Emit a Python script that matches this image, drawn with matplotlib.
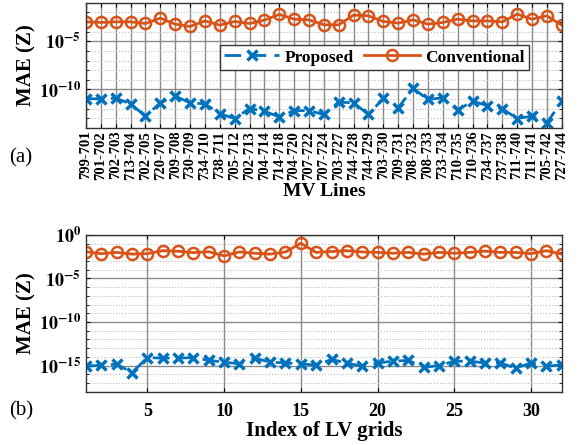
import numpy as np
import matplotlib
matplotlib.use('Agg')
import matplotlib.pyplot as plt
from matplotlib.ticker import NullFormatter

plt.rcParams['font.family'] = 'Liberation Serif'
plt.rcParams['font.weight'] = 'bold'
plt.rcParams['mathtext.fontset'] = 'stix'

# datos (exponentes log10)
mv_lines = ['799-701', '701-702', '702-703', '713-704', '702-705', '720-707', '709-708',
            '730-709', '734-710', '738-711', '705-712', '702-713', '704-714', '714-718',
            '704-720', '707-722', '707-724', '703-727', '744-728', '744-729', '703-730',
            '709-731', '708-732', '708-733', '733-734', '710-735', '710-736', '734-737',
            '737-738', '711-740', '711-741', '705-742', '727-744']
mv_proposed_exp = [-10.97, -10.97, -10.9, -11.5, -12.78, -11.39, -10.69, -11.39, -11.5, -12.5,
                   -13.02, -11.98, -12.26, -12.85, -12.2, -12.2, -12.6, -11.32, -11.39, -12.6,
                   -10.93, -11.9, -9.9, -11.04, -10.87, -12.15, -11.22, -11.67, -12.0, -13.02,
                   -12.78, -13.47, -11.25]
mv_conventional_exp = [-2.99, -3.05, -2.99, -2.99, -3.16, -2.6, -3.23, -3.47, -2.89, -3.33,
                       -2.95, -3.16, -2.81, -2.22, -2.71, -2.78, -3.3, -3.3, -2.29, -2.36,
                       -2.95, -3.12, -2.78, -3.23, -3.05, -2.71, -2.89, -2.89, -2.99, -2.19,
                       -2.71, -2.36, -3.33]

lv_index = list(range(1, 33))
lv_proposed_exp = [-15.08, -14.95, -14.85, -15.8, -14.08, -14.15, -14.15, -14.08, -14.4, -14.6,
                   -14.8, -14.15, -14.6, -14.7, -14.8, -14.95, -14.3, -14.7, -15.1, -14.7,
                   -14.5, -14.4, -15.2, -15.0, -14.5, -14.5, -14.7, -14.7, -15.3, -14.7,
                   -15.1, -14.9]
lv_conventional_exp = [-1.92, -2.15, -2.0, -2.2, -2.15, -1.8, -1.87, -2.03, -1.92, -2.4,
                       -1.95, -2.1, -2.2, -1.95, -0.95, -2.0, -1.9, -1.8, -1.95, -2.0,
                       -2.1, -2.0, -2.2, -2.0, -2.1, -2.0, -1.85, -2.0, -2.0, -2.15,
                       -1.8, -2.2]

blue = '#0072BD'
orange = '#D95319'


def style_axes(ax, yticks, ylo, yhi):
    ax.set_yscale('log')
    ax.set_ylim(10.0**ylo, 10.0**yhi)
    ax.set_yticks([10.0**k for k in yticks])
    ax.set_yticklabels([r'$\mathbf{10^{%d}}$' % k for k in yticks], fontsize=13)
    ax.set_yticks([10.0**k for k in range(ylo, yhi + 1)], minor=True)
    ax.yaxis.set_minor_formatter(NullFormatter())
    ax.grid(True, which='major', color='#8a8a8a', linewidth=1.0)
    ax.grid(True, which='minor', axis='y', color='#bbbbbb', linestyle=':', linewidth=0.8)
    ax.tick_params(which='both', direction='in', top=True, right=True, length=3)
    ax.tick_params(which='minor', length=2)
    ax.set_ylabel('MAE (Z)', fontsize=15, fontweight='bold', labelpad=2)
    for s in ax.spines.values():
        s.set_color('#333333')
        s.set_linewidth(1.0)


fig = plt.figure(figsize=(5.77, 4.45), dpi=100)

# (a) lineas MV
ax1 = fig.add_axes([0.149, 0.7124, 0.8245, 0.2816])
x1 = np.arange(1, len(mv_lines) + 1)
ax1.plot(x1, 10.0**np.array(mv_proposed_exp), color=blue, linestyle='--', dashes=(6, 3),
         linewidth=2, marker='x', markersize=7, markeredgewidth=2.5, label='Proposed')
ax1.plot(x1, 10.0**np.array(mv_conventional_exp), color=orange, linestyle='-',
         linewidth=2, marker='o', markersize=8, markerfacecolor='none',
         markeredgewidth=1.8, label='Conventional')
style_axes(ax1, [-10, -5], -14, -1)
ax1.set_xlim(1, len(mv_lines))
ax1.set_xticks(x1)
ax1.set_xticklabels(mv_lines, rotation=90, fontsize=10.5, fontweight='bold')
ax1.tick_params(axis='x', pad=2)
ax1.set_xlabel('MV Lines', fontsize=14, fontweight='bold', labelpad=2)
leg = ax1.legend(loc='upper right', bbox_to_anchor=(0.931, 0.662), ncol=2, fontsize=12.5,
                 frameon=True, fancybox=False, edgecolor='#333333', framealpha=1,
                 handlelength=3.2, columnspacing=0.6, handletextpad=0.3,
                 borderpad=0.25, borderaxespad=0)
leg.get_frame().set_linewidth(1.0)
fig.text(0.015, 0.635, '(a)', fontsize=15, fontweight='normal')

# (b) redes LV
ax2 = fig.add_axes([0.149, 0.1198, 0.8245, 0.3522])
ax2.plot(lv_index, 10.0**np.array(lv_proposed_exp), color=blue, linestyle='--', dashes=(6, 3),
         linewidth=2, marker='x', markersize=7, markeredgewidth=2.5)
ax2.plot(lv_index, 10.0**np.array(lv_conventional_exp), color=orange, linestyle='-',
         linewidth=2, marker='o', markersize=8, markerfacecolor='none', markeredgewidth=1.8)
style_axes(ax2, [-15, -10, -5, 0], -18, 0)
ax2.set_xlim(1, 32)
ax2.set_xticks([5, 10, 15, 20, 25, 30])
ax2.set_xticklabels(['5', '10', '15', '20', '25', '30'], fontsize=13, fontweight='bold')
ax2.tick_params(axis='x', pad=8)
ax2.set_xlabel('Index of LV grids', fontsize=15, fontweight='bold', labelpad=1)
fig.text(0.015, 0.067, '(b)', fontsize=15, fontweight='normal')

fig.savefig('out.png', dpi=100)
